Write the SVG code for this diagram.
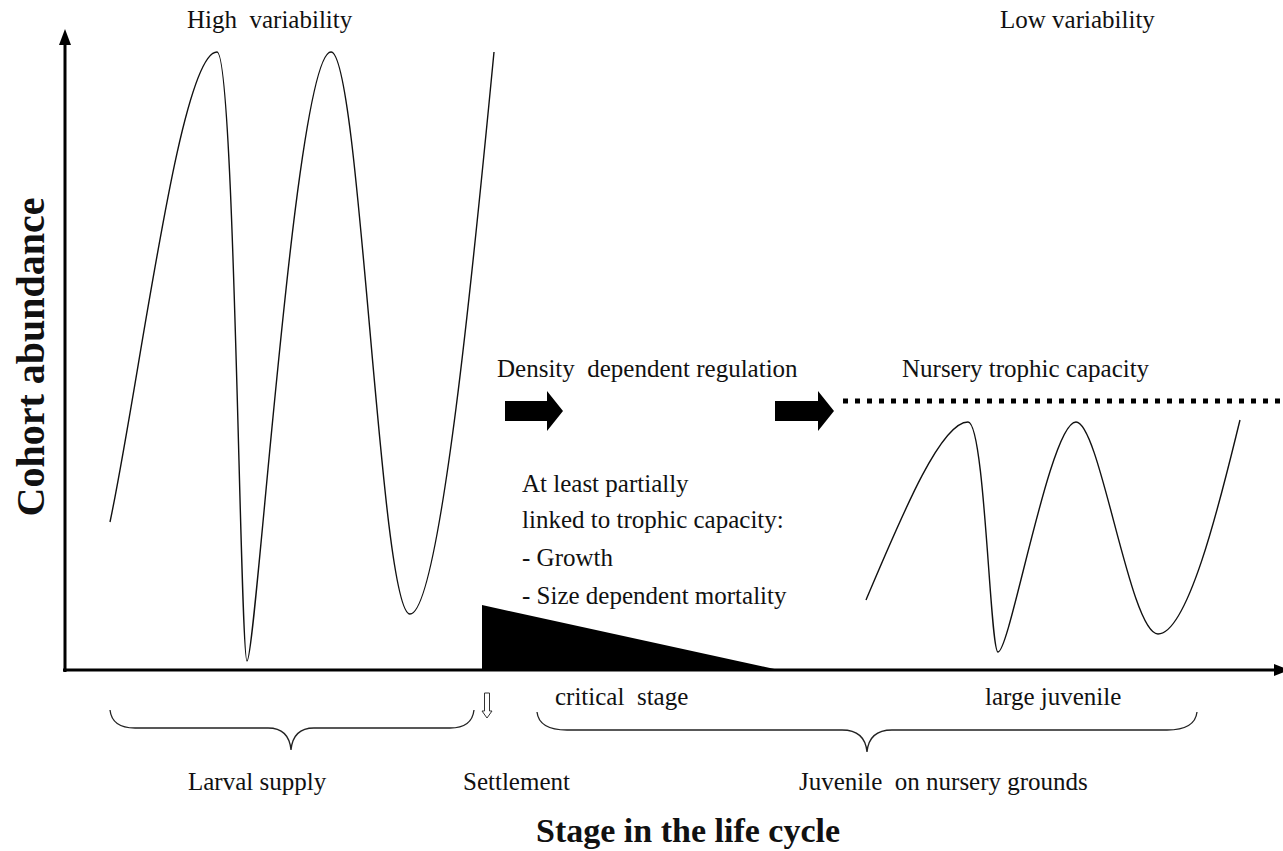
<svg xmlns="http://www.w3.org/2000/svg" width="1283" height="851" viewBox="0 0 1283 851">
<style>
text{font-family:"Liberation Serif","Times New Roman",serif;fill:#111}
.t{font-size:25px}
.pre{white-space:pre}
.b{font-size:34px;font-weight:bold}
.curve{fill:none;stroke:#111;stroke-width:1.4}
.axis{stroke:#000;stroke-width:3;fill:none}
.brace{fill:none;stroke:#222;stroke-width:1.3}
</style>
<rect width="1283" height="851" fill="#fff"/>
<g id="axes">
<line class="axis" x1="65" y1="672" x2="65" y2="42"/>
<polygon points="65,29 59,45 71,45" fill="#000"/>
<line class="axis" x1="63" y1="670" x2="1276" y2="670"/>
<polygon points="1289,670 1274,664 1274,676" fill="#000"/>
</g>
<g id="larval-curve">
<path class="curve" d="M110,522 C140,380 180,52 217,52 C235,52 240,661 247,661 C256,661 295,52 331,52 C360,52 380,614 410,614 C440,614 475,250 494,52"/>
</g>
<g id="juvenile-curve">
<path class="curve" d="M866,600 C900,520 940,422 968,422 C985,422 990,652 998,652 C1010,652 1050,422 1076,422 C1100,422 1130,634 1158,634 C1190,634 1225,480 1240,420"/>
</g>
<g id="capacity-line">
<line x1="843" y1="401" x2="1283" y2="401" stroke="#000" stroke-width="5" stroke-dasharray="5 7"/>
</g>
<g id="mortality-wedge">
<polygon points="482,605 482,670 779,670" fill="#000"/>
</g>
<g id="connectors">
<polygon id="arrow1" points="505,401 547,401 547,391 563,411 547,431 547,421 505,421" fill="#000"/>
<polygon id="arrow2" points="775,401 818,401 818,391 834,411 818,431 818,421 775,421" fill="#000"/>
<polygon id="settle-arrow" points="484.5,693 489.5,693 489.5,711 492,711 487,718 482,711 484.5,711" fill="#fff" stroke="#333" stroke-width="1"/>
<path class="brace" d="M110,710 Q112,728 135,728 L268,728 Q289,728 291,750 Q293,728 314,728 L450,728 Q472,728 474,710"/>
<path class="brace" d="M537,712 Q539,730 567,730 L842,730 Q865,730 867,752 Q869,730 892,730 L1167,730 Q1195,730 1197,712"/>
</g>
<g id="labels">
<text class="t pre" x="187" y="28">High  variability</text>
<text class="t" x="1000" y="28">Low variability</text>
<text class="t pre" x="497" y="377">Density  dependent regulation</text>
<text class="t" x="902" y="377">Nursery trophic capacity</text>
<text class="t" x="522" y="492">At least partially</text>
<text class="t" x="522" y="528">linked to trophic capacity:</text>
<text class="t" x="522" y="566">- Growth</text>
<text class="t" x="522" y="604">- Size dependent mortality</text>
<text class="t pre" x="555" y="705">critical  stage</text>
<text class="t" x="985" y="705">large juvenile</text>
<text class="t" x="188" y="790">Larval supply</text>
<text class="t" x="463" y="790">Settlement</text>
<text class="t pre" x="799" y="790">Juvenile  on nursery grounds</text>
<text class="b" x="536" y="842">Stage in the life cycle</text>
<text class="b" transform="translate(44,357) rotate(-90)" text-anchor="middle" style="font-size:40px">Cohort abundance</text>
</g>
</svg>
